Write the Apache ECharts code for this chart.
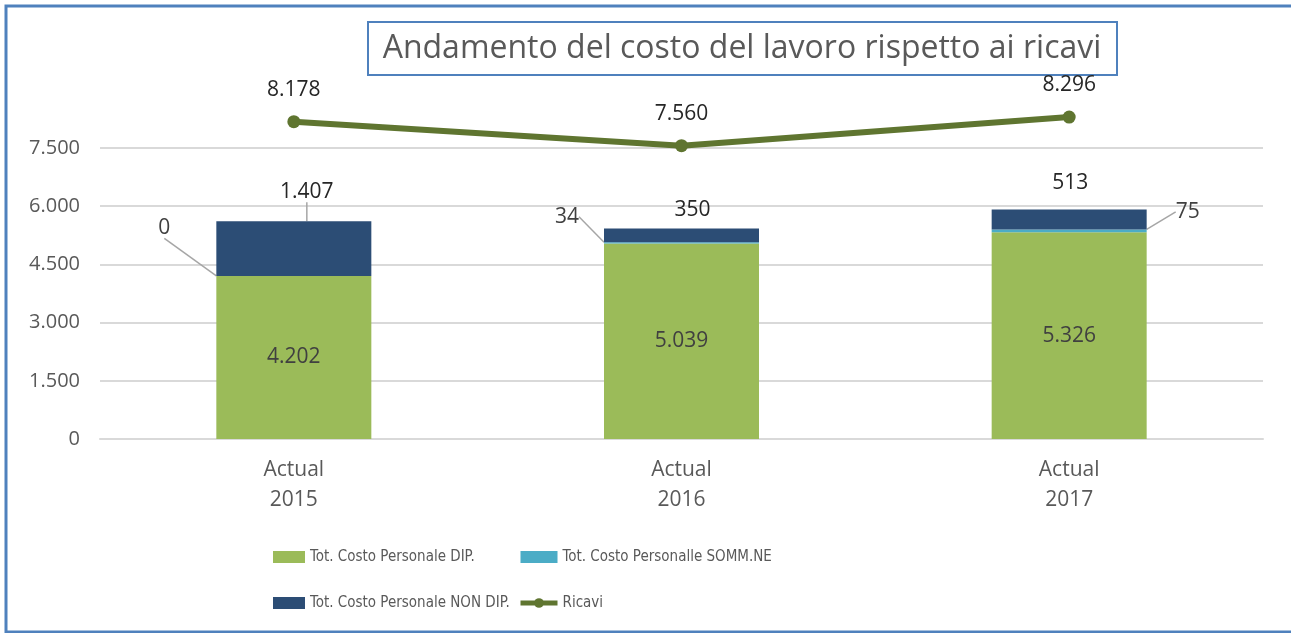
<!DOCTYPE html>
<html>
<head>
<meta charset="utf-8">
<script src="https://cdn.jsdelivr.net/npm/echarts@6/dist/echarts.min.js"></script>
<style>
  html, body { margin: 0; padding: 0; background: #fff; }
  #chart { width: 1291px; height: 633px; }
</style>
</head>
<body>
<div id="chart"></div>
<script>
// dati
const categories = ['Actual\n2015', 'Actual\n2016', 'Actual\n2017']
const costoDip = [4202, 5039, 5326]
const costoSomm = [0, 34, 75]
const costoNonDip = [1407, 350, 513]
const ricavi = [8178, 7560, 8296]
const yTicks = { min: 0, max: 7500, interval: 1500 }

const fontFamily = '"Open Sans", "Noto Sans", sans-serif'
const narrowFont = '"Liberation Sans Narrow", "DejaVu Sans Condensed", "Open Sans", sans-serif'

function fmt(v) {
  return String(v).replace(/\B(?=(\d{3})+(?!\d))/g, '.')
}

// spostamento etichette con linea guida (come in Excel)
const sommOffsets = [[-41, -48], [-20, -26], [24, -19]]
const nonDipOffsets = [[13, -11], [11, 0], [1, -8]]

const chart = echarts.init(document.getElementById('chart'))
const option = {
  animation: false,
  backgroundColor: '#fff',
  textStyle: { fontFamily: fontFamily },
  graphic: [
    {
      type: 'rect',
      shape: { x: 6, y: 6, width: 1300, height: 626 },
      style: { fill: 'none', stroke: '#4F81BD', lineWidth: 3 },
      silent: true
    },
    {
      type: 'rect',
      shape: { x: 368, y: 22, width: 749, height: 53 },
      style: { fill: '#fff', stroke: '#4F81BD', lineWidth: 2 },
      silent: true
    },
    {
      type: 'text',
      x: 742,
      y: 49,
      style: {
        text: 'Andamento del costo del lavoro rispetto ai ricavi',
        fill: '#595959',
        font: '32px ' + fontFamily,
        textAlign: 'center',
        textVerticalAlign: 'middle'
      }
    }
  ],
  legend: [
    {
      left: 268,
      top: 542,
      orient: 'vertical',
      itemWidth: 32,
      itemHeight: 12,
      itemGap: 26,
      icon: 'rect',
      data: ['Tot. Costo Personale DIP.', 'Tot. Costo Personale NON DIP.'],
      textStyle: { color: '#595959', fontSize: 15, lineHeight: 20, fontFamily: narrowFont }
    },
    {
      left: 513,
      top: 542,
      orient: 'vertical',
      itemWidth: 37,
      itemHeight: 12,
      itemGap: 26,
      data: [
        { name: 'Tot. Costo Personalle SOMM.NE', icon: 'rect' },
        { name: 'Ricavi' }
      ],
      lineStyle: { width: 5 },
      textStyle: { color: '#595959', fontSize: 15, lineHeight: 20, fontFamily: narrowFont }
    }
  ],
  grid: {
    left: 100,
    right: 28,
    top: 148,
    bottom: 194
  },
  xAxis: {
    type: 'category',
    data: categories,
    axisTick: { show: false },
    axisLine: { lineStyle: { color: '#D9D9D9', width: 2 } },
    axisLabel: {
      color: '#595959',
      fontSize: 21,
      lineHeight: 30,
      margin: 16
    }
  },
  yAxis: {
    type: 'value',
    min: yTicks.min,
    max: yTicks.max,
    interval: yTicks.interval,
    axisLine: { show: false },
    axisTick: { show: false },
    axisLabel: {
      color: '#595959',
      fontSize: 20,
      margin: 20,
      formatter: fmt
    },
    splitLine: { lineStyle: { color: '#D9D9D9', width: 2 } }
  },
  series: [
    {
      name: 'Tot. Costo Personale DIP.',
      type: 'bar',
      stack: 'costo',
      barWidth: 155,
      data: costoDip,
      itemStyle: { color: '#9BBB59' },
      label: {
        show: true,
        position: 'inside',
        color: '#404040',
        fontSize: 21,
        formatter: p => fmt(p.value)
      }
    },
    {
      name: 'Tot. Costo Personalle SOMM.NE',
      type: 'bar',
      stack: 'costo',
      data: costoSomm.map((v, i) => ({
        value: v,
        label: { position: i === 2 ? 'right' : 'left' }
      })),
      itemStyle: { color: '#4BACC6' },
      label: {
        show: true,
        color: '#404040',
        fontSize: 21,
        formatter: p => fmt(p.value)
      },
      labelLine: {
        show: true,
        lineStyle: { color: '#A6A6A6', width: 1.5 }
      },
      labelLayout: function (p) {
        const o = sommOffsets[p.dataIndex]
        return { dx: o[0], dy: o[1] }
      }
    },
    {
      name: 'Tot. Costo Personale NON DIP.',
      type: 'bar',
      stack: 'costo',
      data: costoNonDip.map((v, i) => ({
        value: v,
        labelLine: { show: i === 0 }
      })),
      itemStyle: { color: '#2C4D75' },
      label: {
        show: true,
        position: 'top',
        distance: 8,
        color: '#262626',
        fontSize: 21,
        formatter: p => fmt(p.value)
      },
      labelLine: {
        lineStyle: { color: '#A6A6A6', width: 1.5 }
      },
      labelLayout: function (p) {
        const o = nonDipOffsets[p.dataIndex]
        return { dx: o[0], dy: o[1] }
      }
    },
    {
      name: 'Ricavi',
      type: 'line',
      data: ricavi,
      clip: false,
      symbol: 'circle',
      symbolSize: 13,
      itemStyle: { color: '#5F7530' },
      lineStyle: { color: '#5F7530', width: 6 },
      label: {
        show: true,
        position: 'top',
        distance: 15,
        color: '#262626',
        fontSize: 21,
        formatter: p => fmt(p.value)
      }
    }
  ]
}
chart.setOption(option)
</script>
</body>
</html>
